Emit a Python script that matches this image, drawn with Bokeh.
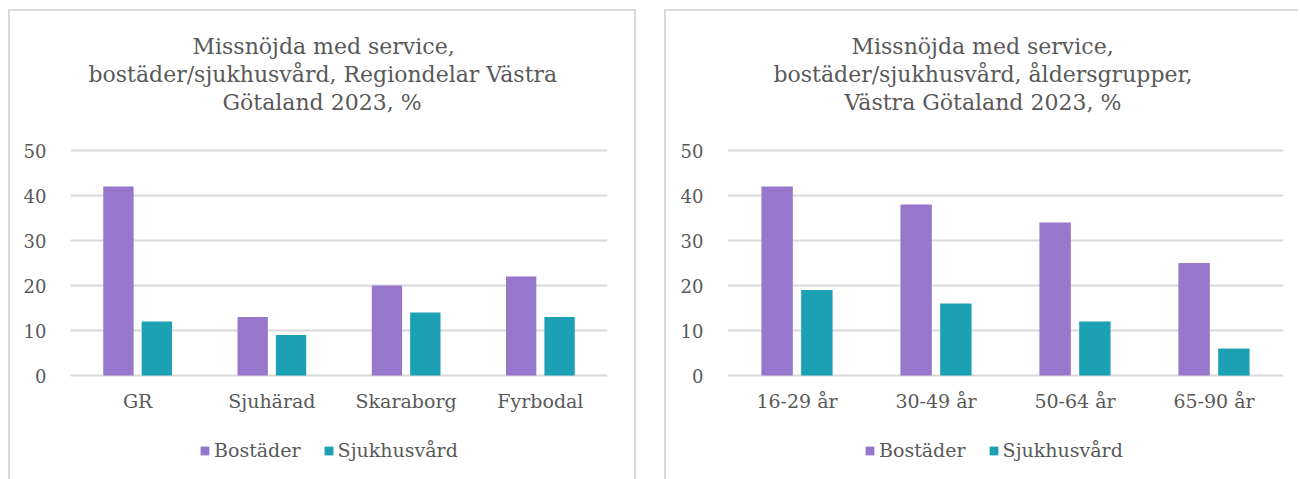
from bokeh.plotting import figure
from bokeh.models import (FactorRange, Range1d, Legend, LegendItem,
                          ColumnDataSource, FixedTicker, Title, Spacer)
from bokeh.layouts import row, column
from bokeh.transform import dodge
from bokeh.embed import file_html
from bokeh.resources import INLINE

# ---- data ----
regions = ["GR", "Sjuhärad", "Skaraborg", "Fyrbodal"]
region_bostader = [42, 13, 20, 22]
region_sjukhus = [12, 9, 14, 13]

ages = ["16-29 år", "30-49 år", "50-64 år", "65-90 år"]
age_bostader = [42, 38, 34, 25]
age_sjukhus = [19, 16, 12, 6]

series_names = ["Bostäder", "Sjukhusvård"]
y_ticks = [0, 10, 20, 30, 40, 50]

title_left = ["Missnöjda med service,",
              "bostäder/sjukhusvård, Regiondelar Västra",
              "Götaland 2023, %"]
title_right = ["Missnöjda med service,",
               "bostäder/sjukhusvård, åldersgrupper,",
               "Västra Götaland 2023, %"]

# ---- style ----
FONT = "DejaVu Serif"
TXT = "#595959"
GRID = "#d9d9d9"
C_BOST = "#9677CC"
C_SJUK = "#1CA0B4"
H = 468


def make_panel(cats, v1, v2, title_lines, width, mb_left, mb_right, legend_x,
               title_offsets):
    src = ColumnDataSource(dict(cat=cats, b=v1, s=v2))
    p = figure(x_range=FactorRange(*cats), y_range=Range1d(-23.1, 57.8),
               width=width, height=H, output_backend="svg",
               toolbar_location=None, min_border_left=mb_left,
               min_border_right=mb_right, min_border_top=104,
               min_border_bottom=0)
    p.background_fill_color = "white"
    p.border_fill_color = "white"
    p.outline_line_color = None

    r1 = p.vbar(x=dodge("cat", -0.143, range=p.x_range), top="b", width=0.226,
                source=src, fill_color=C_BOST, line_color=None)
    r2 = p.vbar(x=dodge("cat", 0.143, range=p.x_range), top="s", width=0.226,
                source=src, fill_color=C_SJUK, line_color=None)

    # axes
    p.yaxis.ticker = FixedTicker(ticks=y_ticks)
    p.yaxis.axis_line_color = None
    p.yaxis.major_tick_line_color = None
    p.yaxis.minor_tick_line_color = None
    p.yaxis.major_label_text_font = FONT
    p.yaxis.major_label_text_font_size = "18px"
    p.yaxis.major_label_text_color = TXT
    p.yaxis.major_label_standoff = 18

    p.xaxis.fixed_location = 0
    p.xaxis.axis_line_color = None
    p.xaxis.major_tick_line_color = None
    p.xaxis.minor_tick_line_color = None
    p.xaxis.major_label_text_font = FONT
    p.xaxis.major_label_text_font_size = "19px"
    p.xaxis.major_label_text_color = TXT
    p.xaxis.major_label_standoff = 8

    p.xgrid.grid_line_color = None
    p.ygrid.ticker = FixedTicker(ticks=y_ticks)
    p.ygrid.grid_line_color = GRID
    p.ygrid.grid_line_width = 2

    # title (bottom line added first: panels stack outward from the frame);
    # left-aligned with per-line offsets so each line is centred on the panel
    for line, off in zip(reversed(title_lines), reversed(title_offsets)):
        t = Title(text=line, align="left", text_font=FONT,
                  text_font_size="22px", text_color=TXT,
                  text_font_style="normal", standoff=1, offset=off)
        p.add_layout(t, "above")

    legend = Legend(items=[LegendItem(label=series_names[0], renderers=[r1]),
                           LegendItem(label=series_names[1], renderers=[r2])],
                    orientation="horizontal", location=(legend_x, 18),
                    label_text_font=FONT, label_text_font_size="19px",
                    label_text_color=TXT, glyph_width=11, glyph_height=11,
                    label_standoff=4, spacing=22, padding=0, margin=0,
                    border_line_color=None, background_fill_alpha=0)
    p.add_layout(legend, "center")
    return p


def line_h(w):
    return Spacer(width=w, height=2, styles={"background-color": GRID})


def line_v(h):
    return Spacer(width=2, height=h, styles={"background-color": GRID})


p1 = make_panel(regions, region_bostader, region_sjukhus, title_left,
                624, 60, 27, 129, [122, 18, 152])
p2 = make_panel(ages, age_bostader, age_sjukhus, title_right,
                632, 61, 15, 137, [124, 46, 117])

panel_left = column(line_h(628), row(line_v(H), p1, line_v(H)))
panel_right = column(line_h(634), row(line_v(H), p2))

layout = column(Spacer(height=9),
                row(Spacer(width=8), panel_left, Spacer(width=28), panel_right))
open("out.html", "w").write(file_html(layout, INLINE))
